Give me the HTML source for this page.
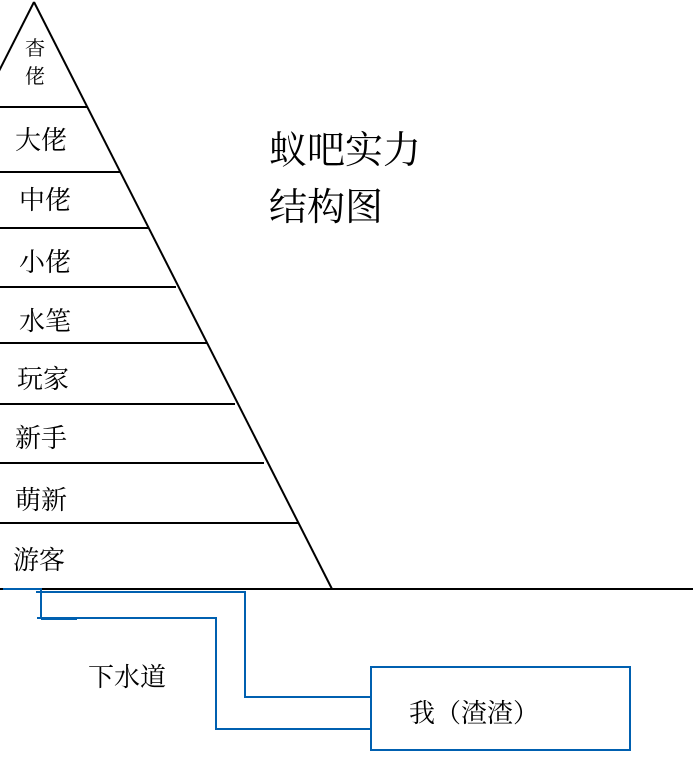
<!DOCTYPE html>
<html><head><meta charset="utf-8"><style>
html,body{margin:0;padding:0;background:#fff;width:693px;height:764px;overflow:hidden}
text{font-family:"Liberation Serif","Noto Serif CJK SC","Noto Sans CJK SC",serif;fill:#000}
</style></head><body>
<svg width="693" height="764" viewBox="0 0 693 764" xmlns="http://www.w3.org/2000/svg">
<g stroke="#000" stroke-width="2" fill="none">
<line x1="34" y1="2" x2="332" y2="589"/>
<line x1="34" y1="2" x2="-1" y2="71"/>
<line x1="0" y1="107" x2="87" y2="107"/>
<line x1="0" y1="172" x2="120" y2="172"/>
<line x1="0" y1="228" x2="148" y2="228"/>
<line x1="0" y1="287" x2="176" y2="287"/>
<line x1="0" y1="343" x2="207" y2="343"/>
<line x1="0" y1="404" x2="235" y2="404"/>
<line x1="0" y1="463" x2="264" y2="463"/>
<line x1="0" y1="523" x2="299" y2="523"/>
<line x1="0" y1="589" x2="693" y2="589"/>
</g>
<g stroke="#0060b0" stroke-width="2" fill="none">
<polyline points="3,589 41,589 41,618 37,618 216,618 216,729 371,729"/>
<polyline points="36,592 245,592 245,697 371,697"/>
<line x1="41" y1="619" x2="77" y2="619"/>
<rect x="371" y="667" width="259" height="83"/>
</g>
<text x="25" y="55" font-size="20">杳</text>
<text x="25" y="83" font-size="20">佬</text>
<g font-size="26">
<text x="15" y="149">大佬</text>
<text x="19" y="209">中佬</text>
<text x="19" y="271">小佬</text>
<text x="19" y="330">水笔</text>
<text x="17" y="388">玩家</text>
<text x="15" y="447">新手</text>
<text x="15" y="509">萌新</text>
<text x="13" y="569">游客</text>
</g>
<text x="269" y="163" font-size="38">蚁吧实力</text>
<text x="269" y="220" font-size="38">结构图</text>
<text x="88" y="686" font-size="26">下水道</text>
<text x="409" y="722" font-size="26">我（渣渣）</text>
</svg>
</body></html>
